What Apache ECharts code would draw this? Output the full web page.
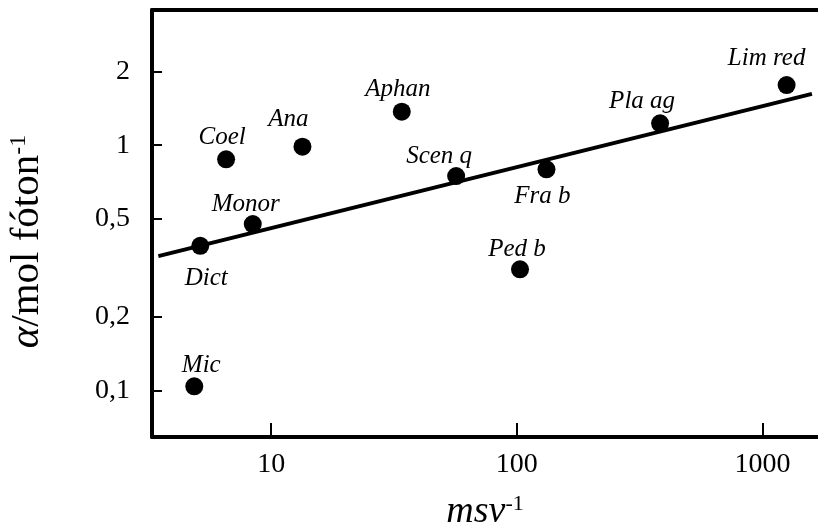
<!DOCTYPE html>
<html><head><meta charset="utf-8">
<script src="https://cdn.jsdelivr.net/npm/echarts@6/dist/echarts.min.js"></script>
<style>html,body{margin:0;padding:0;background:#fff}#c{width:818px;height:527px}</style>
</head><body><div id="c"></div>
<script>
// Data (log-log axes)
const names = ['Mic', 'Dict', 'Coel', 'Monor', 'Ana', 'Aphan', 'Scen q', 'Fra b', 'Ped b', 'Pla ag', 'Lim red'];
const msv = [4.86, 5.14, 6.55, 8.41, 13.4, 34.0, 56.6, 132, 103, 383, 1254];
const alpha = [0.104, 0.389, 0.876, 0.477, 0.986, 1.37, 0.749, 0.798, 0.312, 1.228, 1.76];
// regression line end points
const fitX = [3.47, 1590];
const fitY = [0.353, 1.62];
// ticks
const xTicks = [10, 100, 1000];
const yTicks = [0.1, 0.2, 0.5, 1, 2];
const yTickLabels = ['0,1', '0,2', '0,5', '1', '2'];

// label placement (style) per point name: [dx, dy]
const labelOffsets = {
  'Mic': [7, -21], 'Dict': [6, 33], 'Coel': [-4, -22], 'Monor': [-7, -20],
  'Ana': [-14, -27], 'Aphan': [-4, -22], 'Scen q': [-17, -20], 'Fra b': [-4, 27],
  'Ped b': [-3, -20], 'Pla ag': [-18, -22], 'Lim red': [-20, -27]
};

const SERIF = "'Liberation Serif', 'Times New Roman', serif";
const chart = echarts.init(document.getElementById('c'));

const scatterData = names.map((n, i) => ({
  name: n,
  value: [msv[i], alpha[i]],
  label: { offset: labelOffsets[n] }
}));
const lineData = fitX.map((x, i) => [x, fitY[i]]);

const X_MIN = 3.27, X_MAX = 1683;
const axisLineStyle = { show: true, onZero: false, lineStyle: { color: '#000', width: 4 } };

chart.setOption({
  animation: false,
  backgroundColor: '#fff',
  grid: { left: 152, top: 10, right: 0, bottom: 90, show: false, containLabel: false, outerBoundsMode: 'none' },
  xAxis: [{
    type: 'log', logBase: 10, min: X_MIN, max: X_MAX, position: 'bottom',
    axisLine: axisLineStyle,
    axisTick: { show: true, inside: true, length: 14, lineStyle: { color: '#000', width: 2 }, customValues: xTicks },
    axisLabel: { customValues: xTicks, color: '#000', fontFamily: SERIF, fontSize: 28, margin: 14,
      formatter: v => String(Math.round(v)) },
    splitLine: { show: false },
    name: '{i|msv}{s|-1}', nameLocation: 'middle', nameGap: 56,
    nameTextStyle: { color: '#000', rich: {
      i: { fontFamily: SERIF, fontStyle: 'italic', fontSize: 38, color: '#000', lineHeight: 38 },
      s: { fontFamily: SERIF, fontSize: 22, color: '#000', verticalAlign: 'top', lineHeight: 38 }
    } }
  }, {
    type: 'log', logBase: 10, min: X_MIN, max: X_MAX, position: 'top',
    axisLine: axisLineStyle, axisTick: { show: false }, axisLabel: { show: false }, splitLine: { show: false }
  }],
  yAxis: {
    type: 'log', logBase: 10, min: 0.0646, max: 3.56,
    axisLine: axisLineStyle,
    axisTick: { show: true, inside: true, length: 10, lineStyle: { color: '#000', width: 2 }, customValues: yTicks },
    axisLabel: { customValues: yTicks, color: '#000', fontFamily: SERIF, fontSize: 28, margin: 22,
      formatter: v => { const k = yTicks.findIndex(t => Math.abs(t - v) < 1e-6 * t); return k >= 0 ? yTickLabels[k] : ''; } },
    splitLine: { show: false },
    name: '{a|α}{r|/mol fóton}{s|-1}', nameLocation: 'middle', nameGap: 104,
    nameTextStyle: { color: '#000', padding: [0, 36, 0, 0], rich: {
      a: { fontFamily: SERIF, fontStyle: 'italic', fontSize: 41, color: '#000', lineHeight: 41 },
      r: { fontFamily: SERIF, fontSize: 41, color: '#000', lineHeight: 41 },
      s: { fontFamily: SERIF, fontSize: 24, color: '#000', verticalAlign: 'top', lineHeight: 41 }
    } }
  },
  series: [
    {
      type: 'line', data: lineData, showSymbol: false, symbol: 'none',
      lineStyle: { color: '#000', width: 4 }, z: 2, silent: true
    },
    {
      type: 'scatter', data: scatterData, symbol: 'circle', symbolSize: 18,
      itemStyle: { color: '#000', opacity: 1 }, z: 3,
      label: { show: true, position: 'inside', formatter: p => p.name, color: '#000',
        fontFamily: SERIF, fontStyle: 'italic', fontSize: 25 }
    }
  ]
});
</script>
</body></html>
